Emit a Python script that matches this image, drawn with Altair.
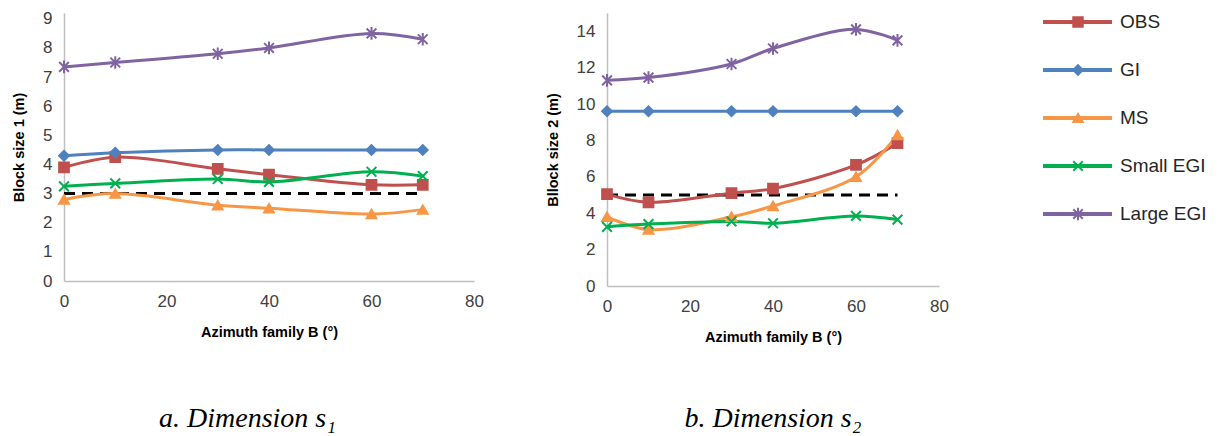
import altair as alt
import pandas as pd

azimuth = [0, 10, 30, 40, 60, 70]
series = ["OBS", "GI", "MS", "Small EGI", "Large EGI"]
colors = ["#C0504D", "#4F81BD", "#F79646", "#00B050", "#8064A2"]
shapes = [
    "square",
    "diamond",
    "triangle-up",
    "M-1,-1L1,1M-1,1L1,-1",
    "M-1,-1L1,1M-1,1L1,-1M0,-1.3L0,1.3",
]

# Panel a: block size 1
s1_obs = [3.9, 4.25, 3.85, 3.65, 3.3, 3.3]
s1_gi = [4.3, 4.4, 4.5, 4.5, 4.5, 4.5]
s1_ms = [2.8, 3.0, 2.6, 2.5, 2.3, 2.45]
s1_small = [3.25, 3.35, 3.5, 3.4, 3.75, 3.6]
s1_large = [7.35, 7.5, 7.8, 8.0, 8.5, 8.3]
s1_ref = 3

# Panel b: block size 2
s2_obs = [5.05, 4.6, 5.1, 5.35, 6.65, 7.85]
s2_gi = [9.6, 9.6, 9.6, 9.6, 9.6, 9.6]
s2_ms = [3.8, 3.1, 3.8, 4.4, 6.0, 8.3]
s2_small = [3.25, 3.4, 3.55, 3.45, 3.85, 3.65]
s2_large = [11.3, 11.45, 12.2, 13.05, 14.1, 13.5]
s2_ref = 5
ref_end = 70

FONT = "Liberation Sans"
LABEL_COLOR = "#404040"


def long_df(vals):
    rows = []
    for name, ys in zip(series, vals):
        for x, y in zip(azimuth, ys):
            rows.append({"az": x, "val": y, "series": name})
    return pd.DataFrame(rows)


color_scale = alt.Scale(domain=series, range=colors)
shape_scale = alt.Scale(domain=series, range=shapes)

axis_style = dict(
    grid=False, ticks=False, labelPadding=12, titlePadding=16,
    labelOverlap=False, labelFlush=False, labelFont=FONT, labelFontSize=17,
    labelColor=LABEL_COLOR, titleFont=FONT, titleFontSize=14.5,
    titleFontWeight="bold", titleColor="black",
    domainColor="#BFBFBF", domainWidth=1.5,
)


def panel(vals, ref, ymax, ytop, ystep, ytitle, width, height, caption, cap_off, frame):
    df = long_df(vals)
    xenc = alt.X(
        "az:Q",
        scale=alt.Scale(domain=[0, 80], nice=False),
        axis=alt.Axis(values=[0, 20, 40, 60, 80], title="Azimuth family B (°)",
                      **axis_style),
    )
    yenc = alt.Y(
        "val:Q",
        scale=alt.Scale(domain=[0, ytop], nice=False),
        axis=alt.Axis(values=list(range(0, ymax + 1, ystep)), title=ytitle,
                      **axis_style),
    )
    refdf = pd.DataFrame({"az": [0], "az2": [ref_end], "val": [ref]})
    rule = alt.Chart(refdf).mark_rule(
        color="black", strokeWidth=3, strokeDash=[11, 7]
    ).encode(x=xenc, x2="az2:Q", y=yenc)
    lines = alt.Chart(df).mark_line(
        interpolate="catmull-rom", strokeWidth=3
    ).encode(
        x=xenc, y=yenc,
        color=alt.Color("series:N", scale=color_scale, legend=None),
    )
    pts = alt.Chart(df).mark_point(
        filled=True, size=95, strokeWidth=2, opacity=1
    ).encode(
        x=xenc, y=yenc,
        color=alt.Color("series:N", scale=color_scale, legend=None),
        stroke=alt.Stroke("series:N", scale=color_scale, legend=None),
        shape=alt.Shape("series:N", scale=shape_scale, legend=None),
    )
    return alt.layer(rule, lines, pts).properties(
        width=width, height=height,
        title=alt.TitleParams(
            caption, orient="bottom", offset=cap_off, font="Liberation Serif",
            fontStyle="italic", fontWeight="normal", fontSize=28, color="black",
            anchor="middle", frame=frame,
        ),
    )


left = panel([s1_obs, s1_gi, s1_ms, s1_small, s1_large], s1_ref, 9, 9.2, 1,
             "Block size 1 (m)", 410, 268, "a. Dimension s₁", 66, "bounds")
right = panel([s2_obs, s2_gi, s2_ms, s2_small, s2_large], s2_ref, 14, 15, 2,
              "Bllock size 2 (m)", 332, 273, "b. Dimension s₂", 61, "group")

legdf = pd.DataFrame({"series": series})
ly = alt.Y("series:N", sort=series,
           scale=alt.Scale(type="point", range=[9, 201], padding=0), axis=None)
lcol = alt.Color("series:N", scale=color_scale, legend=None)
leg_rule = alt.Chart(legdf).mark_rule(strokeWidth=4).encode(
    y=ly, x=alt.value(33), x2=alt.value(102), color=lcol)
leg_pts = alt.Chart(legdf).mark_point(filled=True, size=90, strokeWidth=2, opacity=1).encode(
    y=ly, x=alt.value(68), color=lcol,
    stroke=alt.Stroke("series:N", scale=color_scale, legend=None),
    shape=alt.Shape("series:N", scale=shape_scale, legend=None))
leg_txt = alt.Chart(legdf).mark_text(
    align="left", baseline="middle", fontSize=19, font=FONT, color="#262626"
).encode(y=ly, x=alt.value(110), text="series:N")
legend = alt.layer(leg_rule, leg_pts, leg_txt).properties(width=195, height=273)

chart = alt.hconcat(left, right, legend, spacing=61).configure_view(
    stroke=None
).properties(padding={"left": 11, "top": 9, "right": 0, "bottom": 0})

chart.save("out.html", embed_options={"renderer": "svg", "actions": False})
